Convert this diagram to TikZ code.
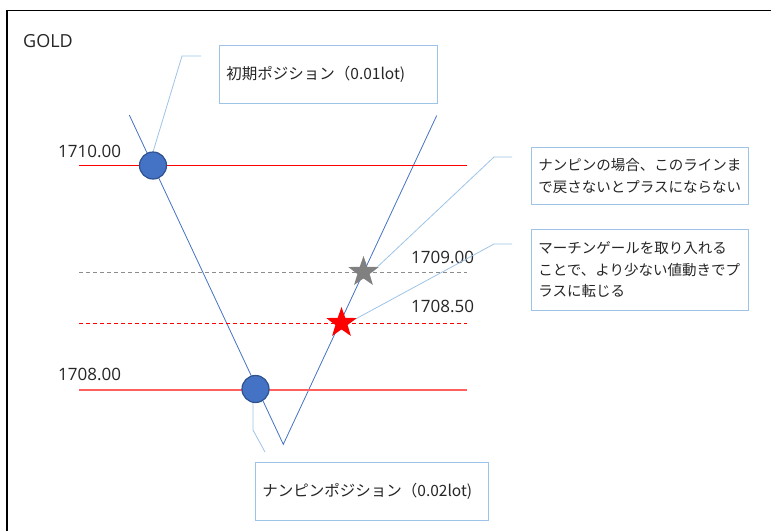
\documentclass[tikz,border=0pt]{standalone}
\usepackage{fontspec}
\setmainfont{Open Sans}
\newfontfamily\jp{Noto Sans CJK JP}
\usetikzlibrary{shapes.geometric}
\definecolor{lineblue}{HTML}{4472C4}
\definecolor{dotedge}{HTML}{2F528F}
\definecolor{callblue}{HTML}{9DC3E6}
\definecolor{textgray}{HTML}{262626}
\definecolor{pricered}{HTML}{FF0000}
\definecolor{lightred}{HTML}{FF5F5F}
\definecolor{stargray}{HTML}{808080}
\definecolor{dashgray}{HTML}{8C8C8C}

\begin{document}
\begin{tikzpicture}[x=1pt,y=-1pt,
  entry/.style={circle, draw=dotedge, fill=lineblue, line width=1.2pt, minimum size=27pt, inner sep=0pt},
  target/.style={star, star points=5, star point ratio=2.5, minimum size=32pt, inner sep=0pt},
  note/.style={draw=callblue, line width=0.8pt, fill=white, text=textgray, align=left, inner xsep=7pt, anchor=north west},
  lead/.style={draw=callblue, line width=0.8pt},
  level/.style={draw=pricered, line width=1.2pt},
  price/.style={font=\fontsize{17}{19}\selectfont, text=textgray, inner sep=0pt, anchor=west}]
\useasboundingbox (0,0) rectangle (771,531);
\draw[line width=1.2pt] (7,531)--(7,10.7)--(771,10.7);
\node[price, font=\fontsize{18}{20}\selectfont] (gold) at (23,41) {GOLD};
\coordinate (vtopa) at (129.3,115);
\coordinate (vbot) at (283.3,444.3);
\coordinate (vtopb) at (436.7,115.5);
\draw[lineblue, line width=0.8pt] (vtopa)--(vbot)--(vtopb);
\draw[level] (79,165.5)--(467,165.5);
\draw[level, draw=lightred, line width=1.8pt] (79,389.6)--(467,389.6);
\draw[level, draw=dashgray, line width=1pt, dash pattern=on 4pt off 3pt] (79,272.5)--(467,272.5);
\draw[level, dash pattern=on 4pt off 3pt] (79,323.5)--(467,323.5);
\node[price] (pa) at (58,151) {1710.00};
\node[price] (pb) at (411,257) {1709.00};
\node[price] (pc) at (411,306) {1708.50};
\node[price] (pd) at (58,374.5) {1708.00};
\node[note, font=\jp\fontsize{15.5}{21.5}\selectfont, text width=204pt, minimum height=58pt] (first) at (219,45) {初期ポジション（0.01lot)};
\node[note, font=\jp\fontsize{14.5}{21.5}\selectfont, text width=203pt, minimum height=57pt] (back) at (531,147) {ナンピンの場合、このラインま\\で戻さないとプラスにならない};
\node[note, font=\jp\fontsize{14.5}{21.5}\selectfont, text width=203pt, minimum height=81pt] (mart) at (531,229) {マーチンゲールを取り入れる\\ことで、より少ない値動きでプ\\ラスに転じる};
\node[note, font=\jp\fontsize{15.5}{21.5}\selectfont, text width=219pt, minimum height=58pt] (nanpin) at (255,462) {ナンピンポジション（0.02lot)};
\coordinate (ka) at (201,56);
\coordinate (kb) at (512,157);
\coordinate (kc) at (512,244);
\coordinate (kd) at (265,452);
\coordinate (ea) at (153,152);
\coordinate (ed) at (253,402);
\coordinate (ga) at (372,272);
\coordinate (gb) at (350,322);
\draw[lead] (ka)--(182,56)--(ea);
\draw[lead] (kb)--(494,157)--(ga);
\draw[lead] (kc)--(494,244)--(gb);
\draw[lead] (kd)--(253,430)--(ed);
\node[entry] (buya) at (153,165.5) {};
\node[entry] (buyb) at (255.5,389) {};
\node[target, fill=stargray] (sgray) at (363.5,272) {};
\node[target, fill=red] (sred) at (341.5,323) {};
\end{tikzpicture}
\end{document}
